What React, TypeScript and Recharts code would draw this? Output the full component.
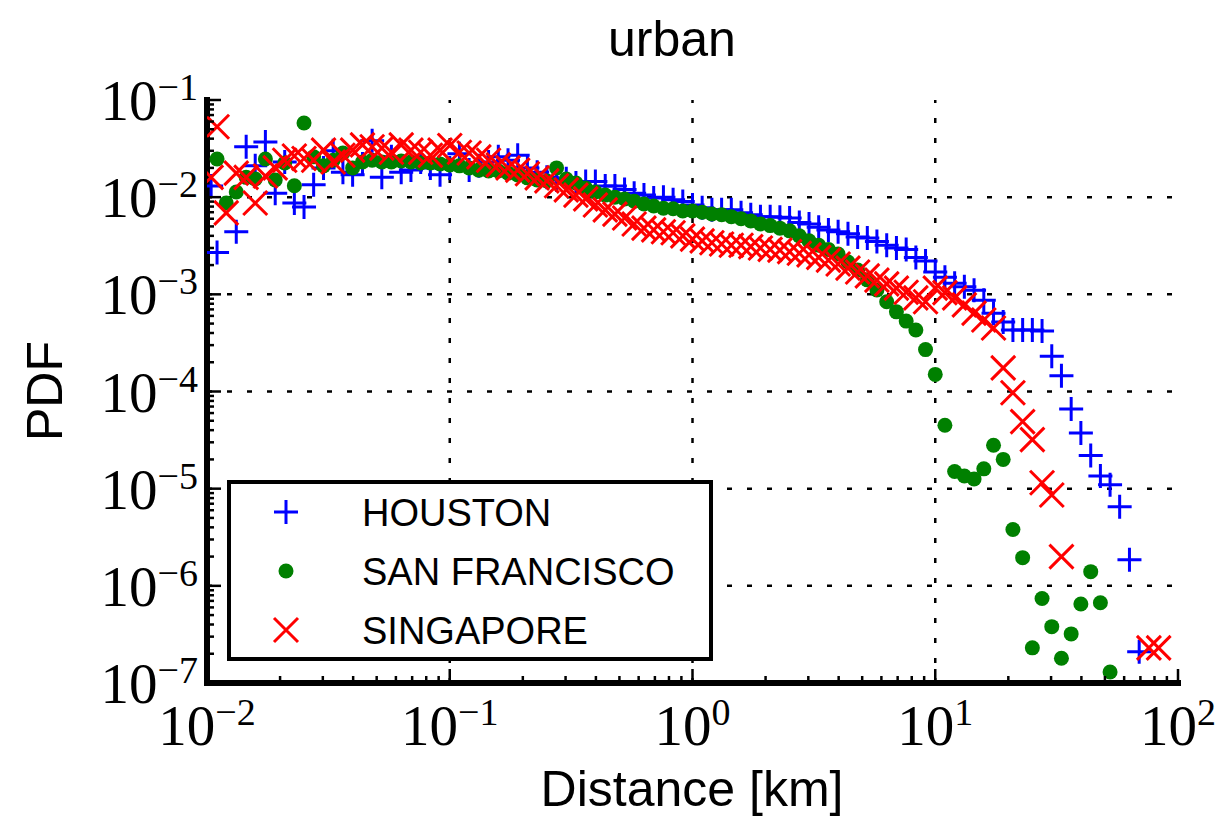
import { ScatterChart, Scatter, XAxis, YAxis, ReferenceLine, Legend } from "recharts";

// [distance km, pdf]
const houston: [number, number][] = [
  [0.0104, 1.3e-2], [0.011, 2.7e-3], [0.0132, 4.4e-3], [0.0145, 3.3e-2], [0.0158, 2.1e-2],
  [0.0174, 3.7e-2], [0.0191, 1.1e-2], [0.0209, 2.3e-2], [0.0229, 8.7e-3], [0.0251, 7.9e-3],
  [0.0275, 1.34e-2], [0.0302, 2.0e-2], [0.0331, 3.0e-2], [0.0363, 1.8e-2], [0.0398, 1.7e-2],
  [0.0437, 2.2e-2], [0.0479, 3.8e-2], [0.0525, 1.6e-2], [0.0575, 2.6e-2], [0.0631, 1.8e-2],
  [0.0692, 1.9e-2], [0.0759, 2.3e-2], [0.0832, 2.0e-2], [0.0912, 1.7e-2], [0.1, 2.0e-2],
  [0.1096, 2.8e-2], [0.1202, 1.9e-2], [0.1318, 2.1e-2], [0.1445, 2.3e-2], [0.1585, 2.6e-2],
  [0.1738, 2.4e-2], [0.1905, 2.7e-2], [0.2089, 2.0e-2], [0.2291, 1.8e-2], [0.2512, 1.6e-2],
  [0.2754, 1.5e-2], [0.302, 1.55e-2], [0.331, 1.4e-2], [0.363, 1.45e-2], [0.398, 1.45e-2],
  [0.437, 1.3e-2], [0.479, 1.3e-2], [0.525, 1.2e-2], [0.575, 1.1e-2], [0.631, 1.05e-2],
  [0.692, 9.8e-3], [0.759, 1.0e-2], [0.832, 9.4e-3], [0.912, 9.0e-3], [1.0, 8.3e-3],
  [1.096, 7.8e-3], [1.202, 7.4e-3], [1.318, 7.4e-3], [1.445, 7.4e-3], [1.585, 6.9e-3],
  [1.738, 6.6e-3], [1.905, 6.3e-3], [2.089, 6.3e-3], [2.291, 6.2e-3], [2.512, 6.1e-3],
  [2.754, 5.5e-3], [3.02, 5.3e-3], [3.31, 4.9e-3], [3.63, 4.6e-3], [3.98, 4.4e-3],
  [4.37, 4.2e-3], [4.79, 3.9e-3], [5.25, 3.8e-3], [5.75, 3.5e-3], [6.31, 3.2e-3],
  [6.92, 3.0e-3], [7.59, 2.9e-3], [8.32, 2.4e-3], [9.12, 2.2e-3], [10.0, 1.7e-3],
  [10.96, 1.5e-3], [12.02, 1.3e-3], [13.18, 1.2e-3], [14.45, 1.1e-3], [15.85, 8.7e-4],
  [17.38, 6.4e-4], [19.05, 5.2e-4], [20.89, 4.3e-4], [22.91, 4.3e-4], [25.12, 4.3e-4],
  [27.54, 4.2e-4], [30.2, 2.3e-4], [33.1, 1.45e-4], [36.3, 6.6e-5], [39.8, 3.75e-5],
  [43.7, 2.2e-5], [47.9, 1.35e-5], [52.5, 1.1e-5], [57.5, 6.5e-6], [63.1, 1.85e-6],
  [69.2, 2.1e-7],
];

const sanFrancisco: [number, number][] = [
  [0.011, 2.47e-2], [0.012, 8.7e-3], [0.0132, 1.13e-2], [0.0145, 1.6e-2], [0.0158, 1.54e-2],
  [0.0174, 2.47e-2], [0.0191, 1.5e-2], [0.0209, 2.25e-2], [0.0229, 1.31e-2], [0.0251, 5.8e-2],
  [0.0275, 2.6e-2], [0.0302, 2.1e-2], [0.0331, 2.4e-2], [0.0363, 2.85e-2], [0.0398, 2.0e-2],
  [0.0437, 2.3e-2], [0.0479, 2.4e-2], [0.0525, 2.3e-2], [0.0575, 2.3e-2], [0.0631, 2.36e-2],
  [0.0692, 2.3e-2], [0.0759, 2.25e-2], [0.0832, 2.25e-2], [0.0912, 2.2e-2], [0.1, 2.14e-2],
  [0.1096, 2.1e-2], [0.1202, 2.0e-2], [0.1318, 1.9e-2], [0.1445, 1.86e-2], [0.1585, 1.86e-2],
  [0.1738, 1.77e-2], [0.1905, 1.69e-2], [0.2089, 1.58e-2], [0.2291, 1.5e-2], [0.2512, 1.47e-2],
  [0.2754, 2.0e-2], [0.302, 1.54e-2], [0.331, 1.4e-2], [0.363, 1.24e-2], [0.398, 1.13e-2],
  [0.437, 1.05e-2], [0.479, 1.0e-2], [0.525, 9.6e-3], [0.575, 9.1e-3], [0.631, 8.5e-3],
  [0.692, 8.1e-3], [0.759, 7.7e-3], [0.832, 7.6e-3], [0.912, 7.2e-3], [1.0, 7.2e-3],
  [1.096, 7.0e-3], [1.202, 6.7e-3], [1.318, 6.6e-3], [1.445, 6.3e-3], [1.585, 6.0e-3],
  [1.738, 5.7e-3], [1.905, 5.3e-3], [2.089, 5.1e-3], [2.291, 4.8e-3], [2.512, 4.5e-3],
  [2.754, 4.0e-3], [3.02, 3.55e-3], [3.31, 3.2e-3], [3.63, 2.9e-3], [3.98, 2.6e-3],
  [4.37, 2.15e-3], [4.79, 1.78e-3], [5.25, 1.41e-3], [5.75, 1.11e-3], [6.31, 8.4e-4],
  [6.92, 6.6e-4], [7.59, 5.3e-4], [8.32, 4.3e-4], [9.12, 2.7e-4], [10.0, 1.5e-4],
  [10.96, 4.5e-5], [12.02, 1.5e-5], [13.18, 1.35e-5], [14.45, 1.26e-5], [15.85, 1.6e-5],
  [17.38, 2.8e-5], [19.05, 2.0e-5], [20.89, 3.8e-6], [22.91, 1.95e-6], [25.12, 2.3e-7],
  [27.54, 7.4e-7], [30.2, 3.8e-7], [33.1, 1.8e-7], [36.3, 3.2e-7], [39.8, 6.5e-7],
  [43.7, 1.4e-6], [47.9, 6.7e-7], [52.5, 1.3e-7],
];

const singapore: [number, number][] = [
  [0.0104, 1.6e-2], [0.011, 5.3e-2], [0.012, 6.9e-3], [0.0132, 1.77e-2], [0.0145, 1.6e-2],
  [0.0158, 8.7e-3], [0.0174, 1.65e-2], [0.0191, 2.0e-2], [0.0209, 2.4e-2], [0.0229, 2.65e-2],
  [0.0251, 2.5e-2], [0.0275, 2.4e-2], [0.0302, 3.05e-2], [0.0331, 2.3e-2], [0.0363, 2.7e-2],
  [0.0398, 3.05e-2], [0.0437, 3.45e-2], [0.0479, 3.3e-2], [0.0525, 3.2e-2], [0.0575, 2.9e-2],
  [0.0631, 3.45e-2], [0.0692, 3.05e-2], [0.0759, 2.9e-2], [0.0832, 2.7e-2], [0.0912, 3.05e-2],
  [0.1, 3.4e-2], [0.1096, 2.9e-2], [0.1202, 2.85e-2], [0.1318, 2.6e-2], [0.1445, 2.4e-2],
  [0.1585, 2.15e-2], [0.1738, 2.0e-2], [0.1905, 1.9e-2], [0.2089, 1.74e-2], [0.2291, 1.58e-2],
  [0.2512, 1.47e-2], [0.2754, 1.31e-2], [0.302, 1.19e-2], [0.331, 1.05e-2], [0.363, 9.6e-3],
  [0.398, 8.3e-3], [0.437, 7.4e-3], [0.479, 6.7e-3], [0.525, 6.1e-3], [0.575, 5.3e-3],
  [0.631, 4.8e-3], [0.692, 4.6e-3], [0.759, 4.4e-3], [0.832, 4.3e-3], [0.912, 4.0e-3],
  [1.0, 3.7e-3], [1.096, 3.55e-3], [1.202, 3.4e-3], [1.318, 3.3e-3], [1.445, 3.2e-3],
  [1.585, 3.2e-3], [1.738, 3.1e-3], [1.905, 3.0e-3], [2.089, 2.9e-3], [2.291, 2.85e-3],
  [2.512, 2.75e-3], [2.754, 2.65e-3], [3.02, 2.55e-3], [3.31, 2.4e-3], [3.63, 2.25e-3],
  [3.98, 2.05e-3], [4.37, 1.86e-3], [4.79, 1.7e-3], [5.25, 1.55e-3], [5.75, 1.4e-3],
  [6.31, 1.28e-3], [6.92, 1.16e-3], [7.59, 1.05e-3], [8.32, 9.2e-4], [9.12, 8.4e-4],
  [10.0, 1.16e-3], [10.96, 1.04e-3], [12.02, 9.2e-4], [13.18, 7.8e-4], [14.45, 6.4e-4],
  [15.85, 5.45e-4], [17.38, 4.5e-4], [19.05, 1.75e-4], [20.89, 9.7e-5], [22.91, 4.9e-5],
  [25.12, 3.2e-5], [27.54, 1.15e-5], [30.2, 8.6e-6], [33.1, 2.0e-6], [75.9, 2.3e-7],
  [83.2, 2.3e-7],
];

const xMajors = [0.01, 0.1, 1, 10, 100];
const yMajors = [1e-7, 1e-6, 1e-5, 1e-4, 1e-3, 1e-2, 1e-1];
const minorSteps = [2, 3, 4, 5, 6, 7, 8, 9];
const xGrid = [0.1, 1, 10];
const yGrid = [1e-6, 1e-5, 1e-4, 1e-3, 1e-2];

const SERIF = '"Liberation Serif", "DejaVu Serif", serif';
const SANS = '"Liberation Sans", Arial, sans-serif';

const withMinors = (majors: number[]) => {
  const out = [...majors];
  majors.slice(0, -1).forEach((m) => minorSteps.forEach((s) => out.push(m * s)));
  return out.sort((a, b) => a - b);
};
const xTicks = withMinors(xMajors);
const yTicks = withMinors(yMajors);

const isMajor = (v: number) => Math.abs(Math.log10(v) - Math.round(Math.log10(v))) < 1e-6;
const expText = (v: number) => {
  const e = Math.round(Math.log10(v));
  return e < 0 ? "\u2212" + -e : String(e);
};

const toPoints = (arr: [number, number][]) => arr.map(([x, y]) => ({ x, y }));

const BottomTick = ({ x, y, payload }: any) => {
  const major = isMajor(payload.value);
  return (
    <g>
      <line x1={x} x2={x} y1={y} y2={y - (major ? 14 : 7)} stroke="#000" strokeWidth={2.5} />
      {major && (
        <text x={x} y={y + 62} textAnchor="middle" fontFamily={SERIF} fontSize={57} fill="#000">
          10<tspan dy={-20} fontSize={38}>{expText(payload.value)}</tspan>
        </text>
      )}
    </g>
  );
};

const TopTick = ({ x, y, payload }: any) => (
  <line x1={x} x2={x} y1={y} y2={y + (isMajor(payload.value) ? 14 : 7)} stroke="#000" strokeWidth={2.5} />
);

const LeftTick = ({ x, y, payload }: any) => {
  const major = isMajor(payload.value);
  return (
    <g>
      <line x1={x} x2={x + (major ? 14 : 7)} y1={y} y2={y} stroke="#000" strokeWidth={2.5} />
      {major && (
        <text x={x - 9} y={y + 20} textAnchor="end" fontFamily={SERIF} fontSize={57} fill="#000">
          10<tspan dy={-20} fontSize={38}>{expText(payload.value)}</tspan>
        </text>
      )}
    </g>
  );
};

const RightTick = ({ x, y, payload }: any) => (
  <line x1={x} x2={x - (isMajor(payload.value) ? 14 : 7)} y1={y} y2={y} stroke="#000" strokeWidth={2.5} />
);

const Plus = ({ cx, cy }: any) => (
  <path d={`M${cx - 12},${cy}H${cx + 12}M${cx},${cy - 12}V${cy + 12}`} stroke="#0000ff" strokeWidth={3} fill="none" />
);
const Dot = ({ cx, cy }: any) => <circle cx={cx} cy={cy} r={7.5} fill="#008000" />;
const Cross = ({ cx, cy }: any) => (
  <path
    d={`M${cx - 12},${cy - 12}L${cx + 12},${cy + 12}M${cx - 12},${cy + 12}L${cx + 12},${cy - 12}`}
    stroke="#ff0000"
    strokeWidth={3}
    fill="none"
  />
);

const SERIES = [
  { name: "HOUSTON", data: houston, color: "#0000ff", shape: Plus },
  { name: "SAN FRANCISCO", data: sanFrancisco, color: "#008000", shape: Dot },
  { name: "SINGAPORE", data: singapore, color: "#ff0000", shape: Cross },
];

const renderLegend = () => (
  <svg width={486} height={181}>
    <rect x={2} y={2} width={482} height={177} fill="#fff" stroke="#000" strokeWidth={4} />
    {SERIES.map((s, i) => {
      const cy = 32 + i * 59;
      const Shape = s.shape;
      return (
        <g key={s.name}>
          <Shape cx={59} cy={cy} />
          <text x={135} y={cy + 13.5} fontFamily={SANS} fontSize={38} fill="#000">
            {s.name}
          </text>
        </g>
      );
    })}
  </svg>
);

const frame = { stroke: "#000", strokeWidth: 6, strokeLinecap: "square" as const };
const gridStyle = { stroke: "#000", strokeWidth: 2.5, strokeDasharray: "5 15" };

export default function App() {
  return (
    <div style={{ position: "absolute", left: 0, top: 0, width: 1217, height: 817, background: "#fff" }}>
      <ScatterChart width={1217} height={817} margin={{ top: 100, right: 39, bottom: 34, left: 87 }}>
        <XAxis
          dataKey="x"
          type="number"
          scale="log"
          domain={[0.01, 100]}
          allowDataOverflow
          ticks={xTicks}
          interval={0}
          height={100}
          tickSize={0}
          tickMargin={0}
          axisLine={frame}
          tick={BottomTick}
        />
        <XAxis
          xAxisId="top"
          orientation="top"
          type="number"
          scale="log"
          domain={[0.01, 100]}
          allowDataOverflow
          ticks={xTicks}
          interval={0}
          height={0}
          tickSize={0}
          tickMargin={0}
          axisLine={frame}
          tick={TopTick}
        />
        <YAxis
          dataKey="y"
          type="number"
          scale="log"
          domain={[1e-7, 0.1]}
          allowDataOverflow
          ticks={yTicks}
          interval={0}
          width={120}
          tickSize={0}
          tickMargin={0}
          axisLine={frame}
          tick={LeftTick}
        />
        <YAxis
          yAxisId="right"
          orientation="right"
          type="number"
          scale="log"
          domain={[1e-7, 0.1]}
          allowDataOverflow
          ticks={yTicks}
          interval={0}
          width={0}
          tickSize={0}
          tickMargin={0}
          axisLine={frame}
          tick={RightTick}
        />
        {xGrid.map((v) => (
          <ReferenceLine key={"x" + v} x={v} {...gridStyle} />
        ))}
        {yGrid.map((v) => (
          <ReferenceLine key={"y" + v} y={v} {...gridStyle} />
        ))}
        {SERIES.map((s) => (
          <Scatter
            key={s.name}
            name={s.name}
            data={toPoints(s.data)}
            fill={s.color}
            shape={s.shape}
            isAnimationActive={false}
          />
        ))}
        <Legend
          layout="vertical"
          align="center"
          verticalAlign="middle"
          content={renderLegend}
          wrapperStyle={{ left: 227, top: 480, width: 486, height: 181 }}
        />
      </ScatterChart>
      <svg width={1217} height={817} style={{ position: "absolute", left: 0, top: 0, pointerEvents: "none" }}>
        <text x={672} y={56} textAnchor="middle" fontFamily={SANS} fontSize={50} fill="#000">
          urban
        </text>
        <text x={692} y={806} textAnchor="middle" fontFamily={SANS} fontSize={50} fill="#000">
          Distance [km]
        </text>
        <text x={62} y={391} textAnchor="middle" fontFamily={SANS} fontSize={50} fill="#000" transform="rotate(-90 62 391)">
          PDF
        </text>
      </svg>
    </div>
  );
}
